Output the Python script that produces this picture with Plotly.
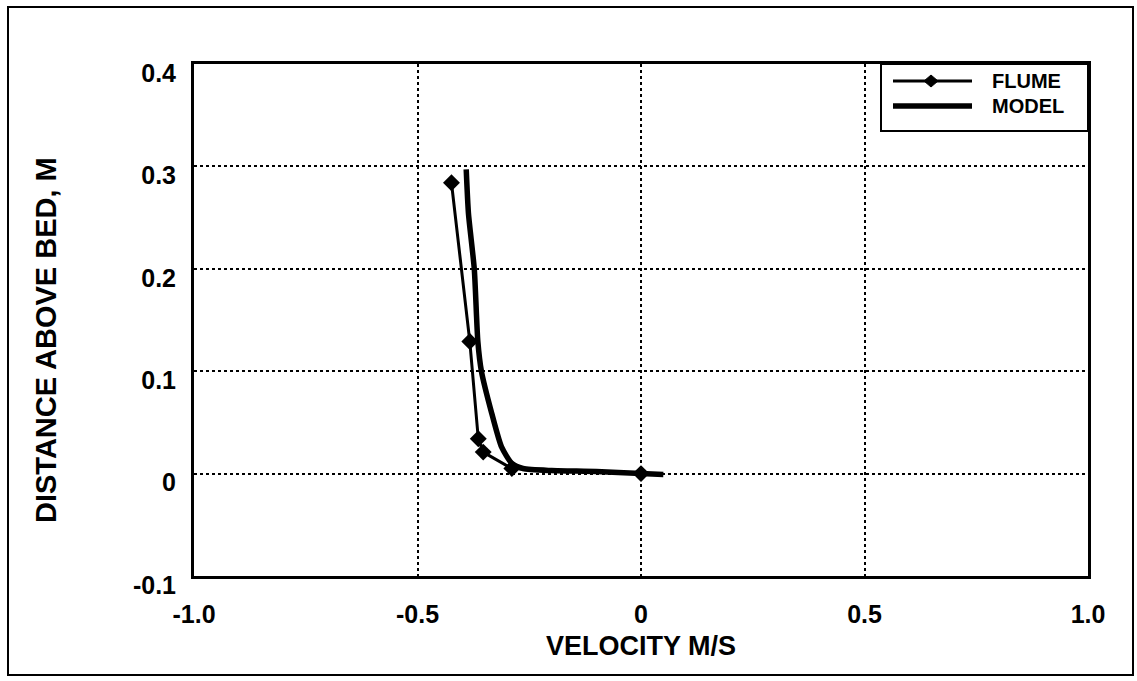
import plotly.graph_objects as go

# ---- data ----
flume_velocity = [-0.424, -0.383, -0.364, -0.353, -0.289, 0.0]
flume_distance = [0.284, 0.129, 0.034, 0.021, 0.005, 0.0]

model_velocity = [-0.391, -0.386, -0.373, -0.365, -0.357, -0.334, -0.312, -0.289, -0.264, -0.20, -0.10, 0.0, 0.05]
model_distance = [0.297, 0.254, 0.200, 0.129, 0.100, 0.059, 0.026, 0.010, 0.005, 0.003, 0.002, 0.0, -0.001]

x_ticks = [-1.0, -0.5, 0.0, 0.5, 1.0]
x_tick_text = ["-1.0", "-0.5", "0", "0.5", "1.0"]
y_ticks = [-0.1, 0.0, 0.1, 0.2, 0.3, 0.4]
y_tick_text = ["-0.1", "0", "0.1", "0.2", "0.3", "0.4"]

# ---- layout geometry (pixels) ----
W, H = 1137, 681
L, R, T, B = 194, 1088, 64, 576


def fx(px):
    return (px - L) / (R - L)


def fy(py):
    return (B - py) / (B - T)


FONT = "Liberation Sans, Arial, Helvetica, sans-serif"

fig = go.Figure()
fig.add_trace(go.Scatter(
    x=model_velocity, y=model_distance, mode="lines", name="MODEL",
    line=dict(color="black", width=5.5, shape="spline", smoothing=0.6),
))
fig.add_trace(go.Scatter(
    x=flume_velocity, y=flume_distance, mode="lines+markers", name="FLUME",
    line=dict(color="black", width=3),
    marker=dict(symbol="diamond", size=13, color="black"),
))

shapes = []
# outer frame
shapes.append(dict(type="rect", xref="paper", yref="paper",
                   x0=fx(8), x1=fx(1133), y0=fy(675), y1=fy(7),
                   line=dict(color="black", width=2)))
# legend box
shapes.append(dict(type="rect", xref="paper", yref="paper",
                   x0=fx(881), x1=fx(1088), y0=fy(131), y1=fy(64),
                   line=dict(color="black", width=2), fillcolor="white", layer="above"))
# legend lines
shapes.append(dict(type="line", xref="paper", yref="paper",
                   x0=fx(893), x1=fx(972), y0=fy(81), y1=fy(81),
                   line=dict(color="black", width=3)))
shapes.append(dict(type="line", xref="paper", yref="paper",
                   x0=fx(893), x1=fx(972), y0=fy(106), y1=fy(106),
                   line=dict(color="black", width=5.5)))
# legend diamond
cx, cy, hw, hh = 931, 81, 7, 6
shapes.append(dict(type="path", xref="paper", yref="paper",
                   path=f"M {fx(cx-hw)},{fy(cy)} L {fx(cx)},{fy(cy-hh)} L {fx(cx+hw)},{fy(cy)} L {fx(cx)},{fy(cy+hh)} Z",
                   fillcolor="black", line=dict(color="black", width=1)))

annotations = [
    dict(text="FLUME", xref="paper", yref="paper", x=fx(990), y=fy(81),
         xanchor="left", yanchor="middle", showarrow=False,
         font=dict(family=FONT, size=20, color="black", weight="bold")),
    dict(text="MODEL", xref="paper", yref="paper", x=fx(990), y=fy(106),
         xanchor="left", yanchor="middle", showarrow=False,
         font=dict(family=FONT, size=20, color="black", weight="bold")),
    dict(text="VELOCITY M/S", xref="paper", yref="paper", x=fx(641), y=fy(646),
         xanchor="center", yanchor="middle", showarrow=False,
         font=dict(family=FONT, size=27, color="black", weight="bold")),
    dict(text="DISTANCE ABOVE BED, M", xref="paper", yref="paper", x=fx(46), y=fy(340),
         xanchor="center", yanchor="middle", showarrow=False, textangle=-90,
         font=dict(family=FONT, size=29, color="black", weight="bold")),
]

fig.update_layout(
    width=W, height=H,
    margin=dict(l=L, r=W - R, t=T, b=H - B),
    paper_bgcolor="white", plot_bgcolor="white",
    showlegend=False,
    shapes=shapes, annotations=annotations,
    font=dict(family=FONT, color="black"),
)
fig.update_xaxes(
    range=[-1.0, 1.0], tickvals=x_ticks, ticktext=x_tick_text,
    showline=True, mirror=True, linecolor="black", linewidth=3,
    showgrid=True, gridcolor="black", griddash="dot", gridwidth=1.5,
    zeroline=False, ticks="", ticklabelstandoff=14,
    tickfont=dict(family=FONT, size=25, color="black", weight="bold"),
)
fig.update_yaxes(
    range=[-0.1, 0.4], tickvals=y_ticks, ticktext=y_tick_text,
    showline=True, mirror=True, linecolor="black", linewidth=3,
    showgrid=True, gridcolor="black", griddash="dot", gridwidth=1.5,
    zeroline=False, ticks="", ticklabelstandoff=10, ticklabelshift=9,
    tickfont=dict(family=FONT, size=25, color="black", weight="bold"),
)

fig.write_html("out.html")
